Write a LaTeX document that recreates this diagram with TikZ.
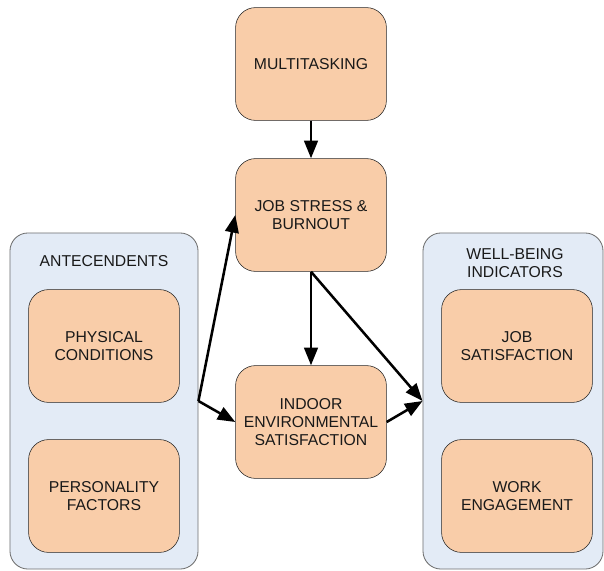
\documentclass[tikz,border=0pt]{standalone}
\usepackage{fontspec}
\setmainfont{Liberation Sans}
\usepackage{tikz}
\usetikzlibrary{arrows.meta}

\definecolor{peach}{HTML}{F9CDA9}
\definecolor{paleblue}{HTML}{E3EBF6}
\definecolor{frame}{HTML}{6E6E6E}

\begin{document}
\begin{tikzpicture}[
    x=0.025cm, y=-0.025cm,
    factor/.style={rectangle, rounded corners=0.5cm, draw=black!85, fill=peach,
        minimum width=3.77cm, minimum height=2.82cm, align=center,
        font=\fontsize{11.2}{12.9}\selectfont, text=black!90},
    group/.style={rectangle, rounded corners=0.45cm, draw=frame, fill=paleblue,
        line width=0.6pt},
    title/.style={align=center, font=\fontsize{11.2}{12.9}\selectfont, text=black!90},
    link/.style={line width=1.8pt, -{Triangle[length=0.44cm, width=0.34cm]}}
]

\useasboundingbox (0,0) rectangle (604,571);

% Define groups
\node[group, minimum width=4.7cm, minimum height=8.4cm] (ante) at (104, 401) {};
\node[title] (antetitle) at (104, 261) {ANTECENDENTS};
\node[group, minimum width=4.5cm, minimum height=8.4cm] (well) at (513, 401) {};
\node[title] (welltitle) at (515, 263) {WELL-BEING\\INDICATORS};

% Define factors
\node[factor] (multi) at (311, 64) {MULTITASKING};
\node[factor] (stress) at (311, 215) {JOB STRESS \&\\BURNOUT};
\node[factor] (indoor) at (311, 422) {INDOOR\\ENVIRONMENTAL\\SATISFACTION};
\node[factor] (physical) at (104, 346) {PHYSICAL\\CONDITIONS};
\node[factor] (personality) at (104, 496) {PERSONALITY\\FACTORS};
\node[factor] (jobsat) at (517, 346) {JOB\\SATISFACTION};
\node[factor] (work) at (517, 496) {WORK\\ENGAGEMENT};

% Define links
\draw[link] (multi) -- (stress);
\draw[link] (stress) -- (indoor);
\draw[link] (stress.south) -- (well.west);
\draw[link] (ante.east) -- (stress.west);
\draw[link] (ante.east) -- (indoor.west);
\draw[link] (indoor.east) -- (well.west);

\end{tikzpicture}
\end{document}
